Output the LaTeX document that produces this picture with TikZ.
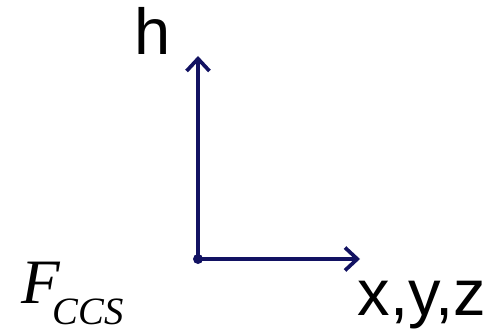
\documentclass[tikz,border=0pt]{standalone}
\usepackage{fontspec}
\setmainfont{Liberation Sans}
\newfontfamily\timesfont{Liberation Serif}
\usetikzlibrary{arrows.meta,positioning}
\definecolor{axisblue}{RGB}{18,18,98}

\begin{document}
\begin{tikzpicture}[
    x=0.02cm, y=0.02cm,
    axis/.style={draw=axisblue, line width=2.1pt, line cap=round,
        -{Straight Barb[length=7pt,width=13pt,line width=2.1pt]}},
    axislabel/.style={font=\fontsize{37}{37}\selectfont, inner sep=0pt}
]
    \useasboundingbox (0,0) rectangle (494,332);

    \coordinate (o) at (198,73);
    \coordinate (htip) at (198,276);
    \coordinate (xtip) at (360,73);

    \draw[axis] (o) -- (htip);
    \draw[axis] (o) -- (xtip);
    \fill[axisblue] (o) circle (5);

    \node[axislabel, anchor=base] (h) at (153,277) {h};
    \node[axislabel, anchor=base] (xyz) at (422,17) {x,y,z};
    \node[inner sep=0pt, anchor=base west] (frame) at (21,29)
        {\timesfont\itshape\fontsize{36}{36}\selectfont F\kern-4pt\raisebox{-12.5pt}{\fontsize{22}{22}\selectfont CCS}};
\end{tikzpicture}
\end{document}
